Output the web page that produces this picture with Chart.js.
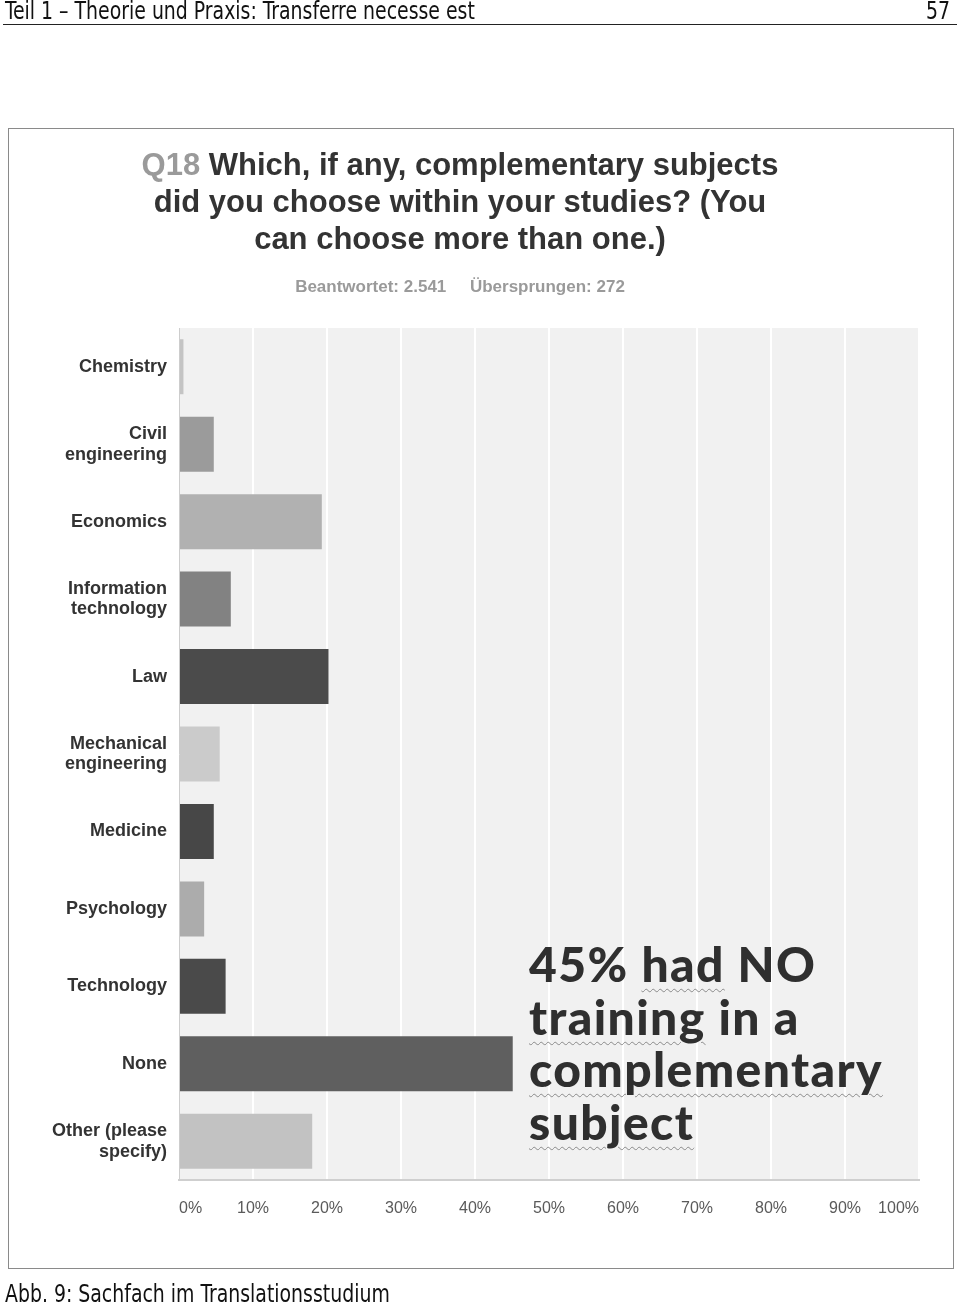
<!DOCTYPE html>
<html>
<head>
<meta charset="utf-8">
<script src="https://cdn.jsdelivr.net/npm/chart.js@4/dist/chart.umd.min.js"></script>
<style>
  html, body { margin: 0; padding: 0; background: #fff; }
  body { width: 960px; height: 1307px; position: relative; overflow: hidden; }
  #chart { position: absolute; left: 0; top: 0; z-index: 1; }
  .ov { position: absolute; z-index: 2; white-space: nowrap; }
  .cond { font-family: "Liberation Sans Narrow", "DejaVu Sans Condensed", sans-serif; font-stretch: condensed; font-size: 25px; color: #111; transform-origin: 0 0; transform: scaleX(0.84); }
  #hdr { left: 5px; top: -4px; }
  #pg { left: 926px; top: -4px; }
  #hline { position: absolute; left: 3px; top: 24px; width: 954px; height: 0; border-top: 1.5px solid #222; }
  #box { position: absolute; left: 8px; top: 128px; width: 946px; height: 1141px; border: 1px solid #8a8a8a; box-sizing: border-box; z-index: 0; }
  #title { left: 60px; width: 800px; top: 146px; text-align: center; font-family: "Liberation Sans", Arial, sans-serif; font-weight: bold; font-size: 31px; line-height: 37px; color: #333; }
  #title .q { color: #9a9a9a; }
  #sub { left: 60px; width: 800px; top: 277px; text-align: center; font-family: "Liberation Sans", Arial, sans-serif; font-weight: bold; font-size: 17px; color: #9a9a9a; }
  #note { left: 529px; top: 938px; font-family: "Lato", "DejaVu Sans", sans-serif; font-weight: 900; font-size: 48px; line-height: 52.5px; letter-spacing: 1.4px; color: #2f2f2f; }
  #note .w { text-decoration: underline wavy #8a8a8a; text-decoration-thickness: 1px; text-underline-offset: 6px; }
  #cap { left: 5px; top: 1279px; }
</style>
</head>
<body>
<div id="hdr" class="ov cond">Teil 1 – Theorie und Praxis: Transferre necesse est</div>
<div id="pg" class="ov cond">57</div>
<div id="hline"></div>
<div id="box"></div>
<div id="title" class="ov"><span class="q">Q18</span> Which, if any, complementary subjects<br>did you choose within your studies? (You<br>can choose more than one.)</div>
<div id="sub" class="ov">Beantwortet: 2.541&nbsp;&nbsp;&nbsp;&nbsp;&nbsp;Übersprungen: 272</div>
<canvas id="chart" width="960" height="1307"></canvas>
<div id="note" class="ov">45% <span class="w">had</span> NO<br><span class="w">training</span> in a<br><span class="w">complementary</span><br><span class="w">subject</span></div>
<div id="cap" class="ov cond">Abb. 9: Sachfach im Translationsstudium</div>
<script>
// ---- data ----
const categories = [
  ["Chemistry"],
  ["Civil", "engineering"],
  ["Economics"],
  ["Information", "technology"],
  ["Law"],
  ["Mechanical", "engineering"],
  ["Medicine"],
  ["Psychology"],
  ["Technology"],
  ["None"],
  ["Other (please", "specify)"]
];
const percentValues = [0.6, 4.7, 19.3, 7.0, 20.2, 5.5, 4.7, 3.4, 6.3, 45.1, 18.0];
const tickValues = [0, 10, 20, 30, 40, 50, 60, 70, 80, 90, 100];

// ---- styles ----
const barColors = ["#c4c4c4", "#9b9b9b", "#b1b1b1", "#828282", "#4b4b4b", "#cbcbcb", "#474747", "#acacac", "#4a4a4a", "#5f5f5f", "#c2c2c2"];

const plotBg = {
  id: "plotBg",
  beforeDraw(chart) {
    const a = chart.chartArea, c = chart.ctx;
    c.save();
    c.fillStyle = "#f1f1f1";
    c.fillRect(a.left, a.top, a.right - a.left, a.bottom - a.top);
    c.restore();
  }
};

new Chart(document.getElementById("chart"), {
  type: "bar",
  data: {
    labels: categories,
    datasets: [{
      data: percentValues,
      backgroundColor: barColors,
      borderWidth: 0,
      barPercentage: 0.71,
      categoryPercentage: 1.0
    }]
  },
  options: {
    indexAxis: "y",
    responsive: false,
    maintainAspectRatio: false,
    devicePixelRatio: 1,
    animation: false,
    layout: { padding: { left: 0, right: 41, top: 328, bottom: 67 } },
    plugins: { legend: { display: false }, tooltip: { enabled: false } },
    scales: {
      x: {
        min: 0, max: 100,
        afterBuildTicks(scale) { scale.ticks = tickValues.map(v => ({ value: v })); },
        afterFit(scale) { scale.height = 60; },
        grid: { color: "#ffffff", lineWidth: 2, drawTicks: false },
        border: { display: true, color: "#cfcfcf", width: 2 },
        ticks: {
          align: "inner",
          padding: 19,
          color: "#5a5a5a",
          font: { family: "'Liberation Sans', Arial, sans-serif", size: 16 },
          callback: v => v + "%"
        }
      },
      y: {
        afterFit(scale) { scale.width = 179; },
        grid: { display: false, drawTicks: false },
        border: { display: true, color: "#cdcdcd", width: 1 },
        ticks: {
          padding: 12,
          color: "#333333",
          font: { family: "'Liberation Sans', Arial, sans-serif", size: 18, weight: "bold", lineHeight: 1.15 }
        }
      }
    }
  },
  plugins: [plotBg]
});
</script>
</body>
</html>
